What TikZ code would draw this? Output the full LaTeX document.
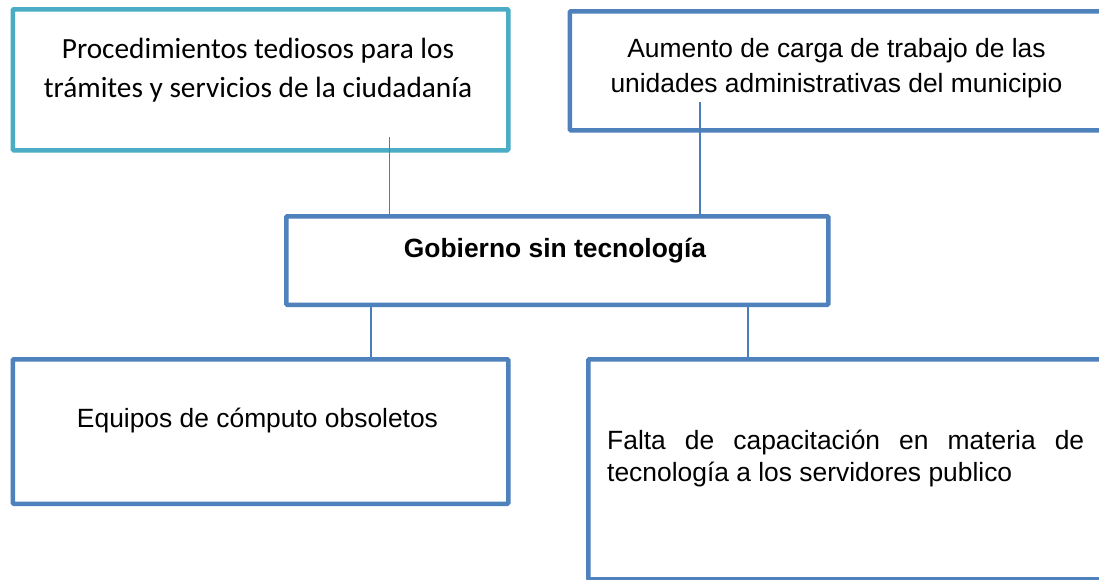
\documentclass[tikz,border=0pt]{standalone}
\usepackage{fontspec}
\setmainfont{Liberation Sans}
\newfontfamily\calibrifont{Carlito}
\definecolor{boxblue}{HTML}{4F81BD}
\definecolor{boxcyan}{HTML}{4BACC6}
\definecolor{linkblue}{HTML}{4A7EBB}
\begin{document}
\begin{tikzpicture}[x=1pt,y=-1pt,
  box/.style={draw=boxblue, line width=4.5pt, fill=white, rounded corners=1pt, inner sep=0pt, anchor=north west},
  cyanbox/.style={box, draw=boxcyan},
  link/.style={draw=linkblue, line width=1.5pt},
  atxt/.style={font=\fontsize{26.4}{35}\selectfont, inner sep=0pt, anchor=base},
  ctxt/.style={font=\calibrifont\fontsize{29.3}{38}\selectfont, inner sep=0pt, anchor=base},
  btxt/.style={font=\bfseries\fontsize{26.4}{35}\selectfont, inner sep=0pt, anchor=base}]
\useasboundingbox (0,0) rectangle (1099,579);
\clip (0,0) rectangle (1099,579);
\fill[white] (0,0) rectangle (1099,579);
% boxes
\node[cyanbox, minimum width=495.5pt, minimum height=141pt] (b1) at (10.5,7) {};
\node[box, minimum width=537.5pt, minimum height=119pt] (b2) at (567.5,9) {};
\node[box, minimum width=542pt, minimum height=88.5pt] (mid) at (284,214) {};
\node[box, minimum width=495.5pt, minimum height=144.5pt] (b4) at (10.5,357) {};
\node[box, minimum width=519pt, minimum height=220pt] (b5) at (586,357) {};
% texts
\node[ctxt] (t1a) at (258,58) {Procedimientos tediosos para los};
\node[ctxt] (t1b) at (258,97) {trámites y servicios de la ciudadanía};
\node[atxt] (t2a) at (836.5,57) {Aumento de carga de trabajo de las};
\node[atxt] (t2b) at (836.5,92) {unidades administrativas del municipio};
\node[btxt] (tm) at (555,257) {Gobierno sin tecnología};
\node[atxt] (t4) at (257.5,427) {Equipos de cómputo obsoletos};
\node[atxt, anchor=base west] (t5a) at (607,449) {\makebox[477pt][s]{Falta de capacitación en materia de}};
\node[atxt, anchor=base west] (t5b) at (607,481.5) {tecnología a los servidores publico};
% connectors
\coordinate (c1) at (389.5,137);
\coordinate (c2) at (700,102);
\coordinate (d1) at (371,302.5);
\coordinate (d2) at (748,302.5);
\draw[link] (c1) -- (c1 |- mid.north);
\draw[link] (c2) -- (c2 |- mid.north);
\draw[link] (d1 |- mid.south) -- (d1 |- b4.north);
\draw[link] (d2 |- mid.south) -- (d2 |- b5.north);
\end{tikzpicture}
\end{document}
